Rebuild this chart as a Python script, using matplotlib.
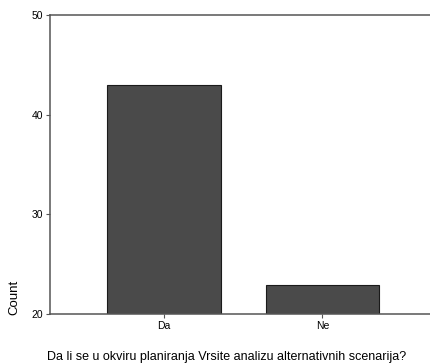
import matplotlib
matplotlib.use("Agg")
import matplotlib.pyplot as plt

categories = ["Da", "Ne"]
counts = [43, 22.9]
yticks = [20, 30, 40, 50]

plt.rcParams['font.family'] = ['Liberation Sans', 'DejaVu Sans']

fig = plt.figure(figsize=(4.3, 3.64), dpi=100)
ax = fig.add_axes([50/430, 1 - 314/364, 1 - 50/430, (314 - 15)/364])

x = list(range(len(categories)))
ax.bar(x, [c - 20 for c in counts], bottom=20, width=0.716, color="#4a4a4a",
       edgecolor="#1a1a1a", linewidth=0.8)

ax.set_xlim(-0.72, 1.68)
ax.set_ylim(20, 50)
ax.set_yticks(yticks)
ax.set_yticklabels([str(t) for t in yticks], fontsize=7.5)
ax.set_xticks(x)
ax.set_xticklabels(categories, fontsize=7.5)
ax.tick_params(axis='both', length=3, width=0.8, color="#555555", pad=2)

for s in ["left", "top", "bottom"]:
    ax.spines[s].set_color("#555555")
    ax.spines[s].set_linewidth(1.1)
ax.spines["right"].set_visible(False)

fig.text(14/430, 1 - 297/364, "Count", rotation=90, ha="center", va="center", fontsize=9.5)
fig.text(227/430, 1 - 357/364, "Da li se u okviru planiranja Vrsite analizu alternativnih scenarija?",
         ha="center", va="center", fontsize=9)

fig.savefig("out.png", dpi=100)
